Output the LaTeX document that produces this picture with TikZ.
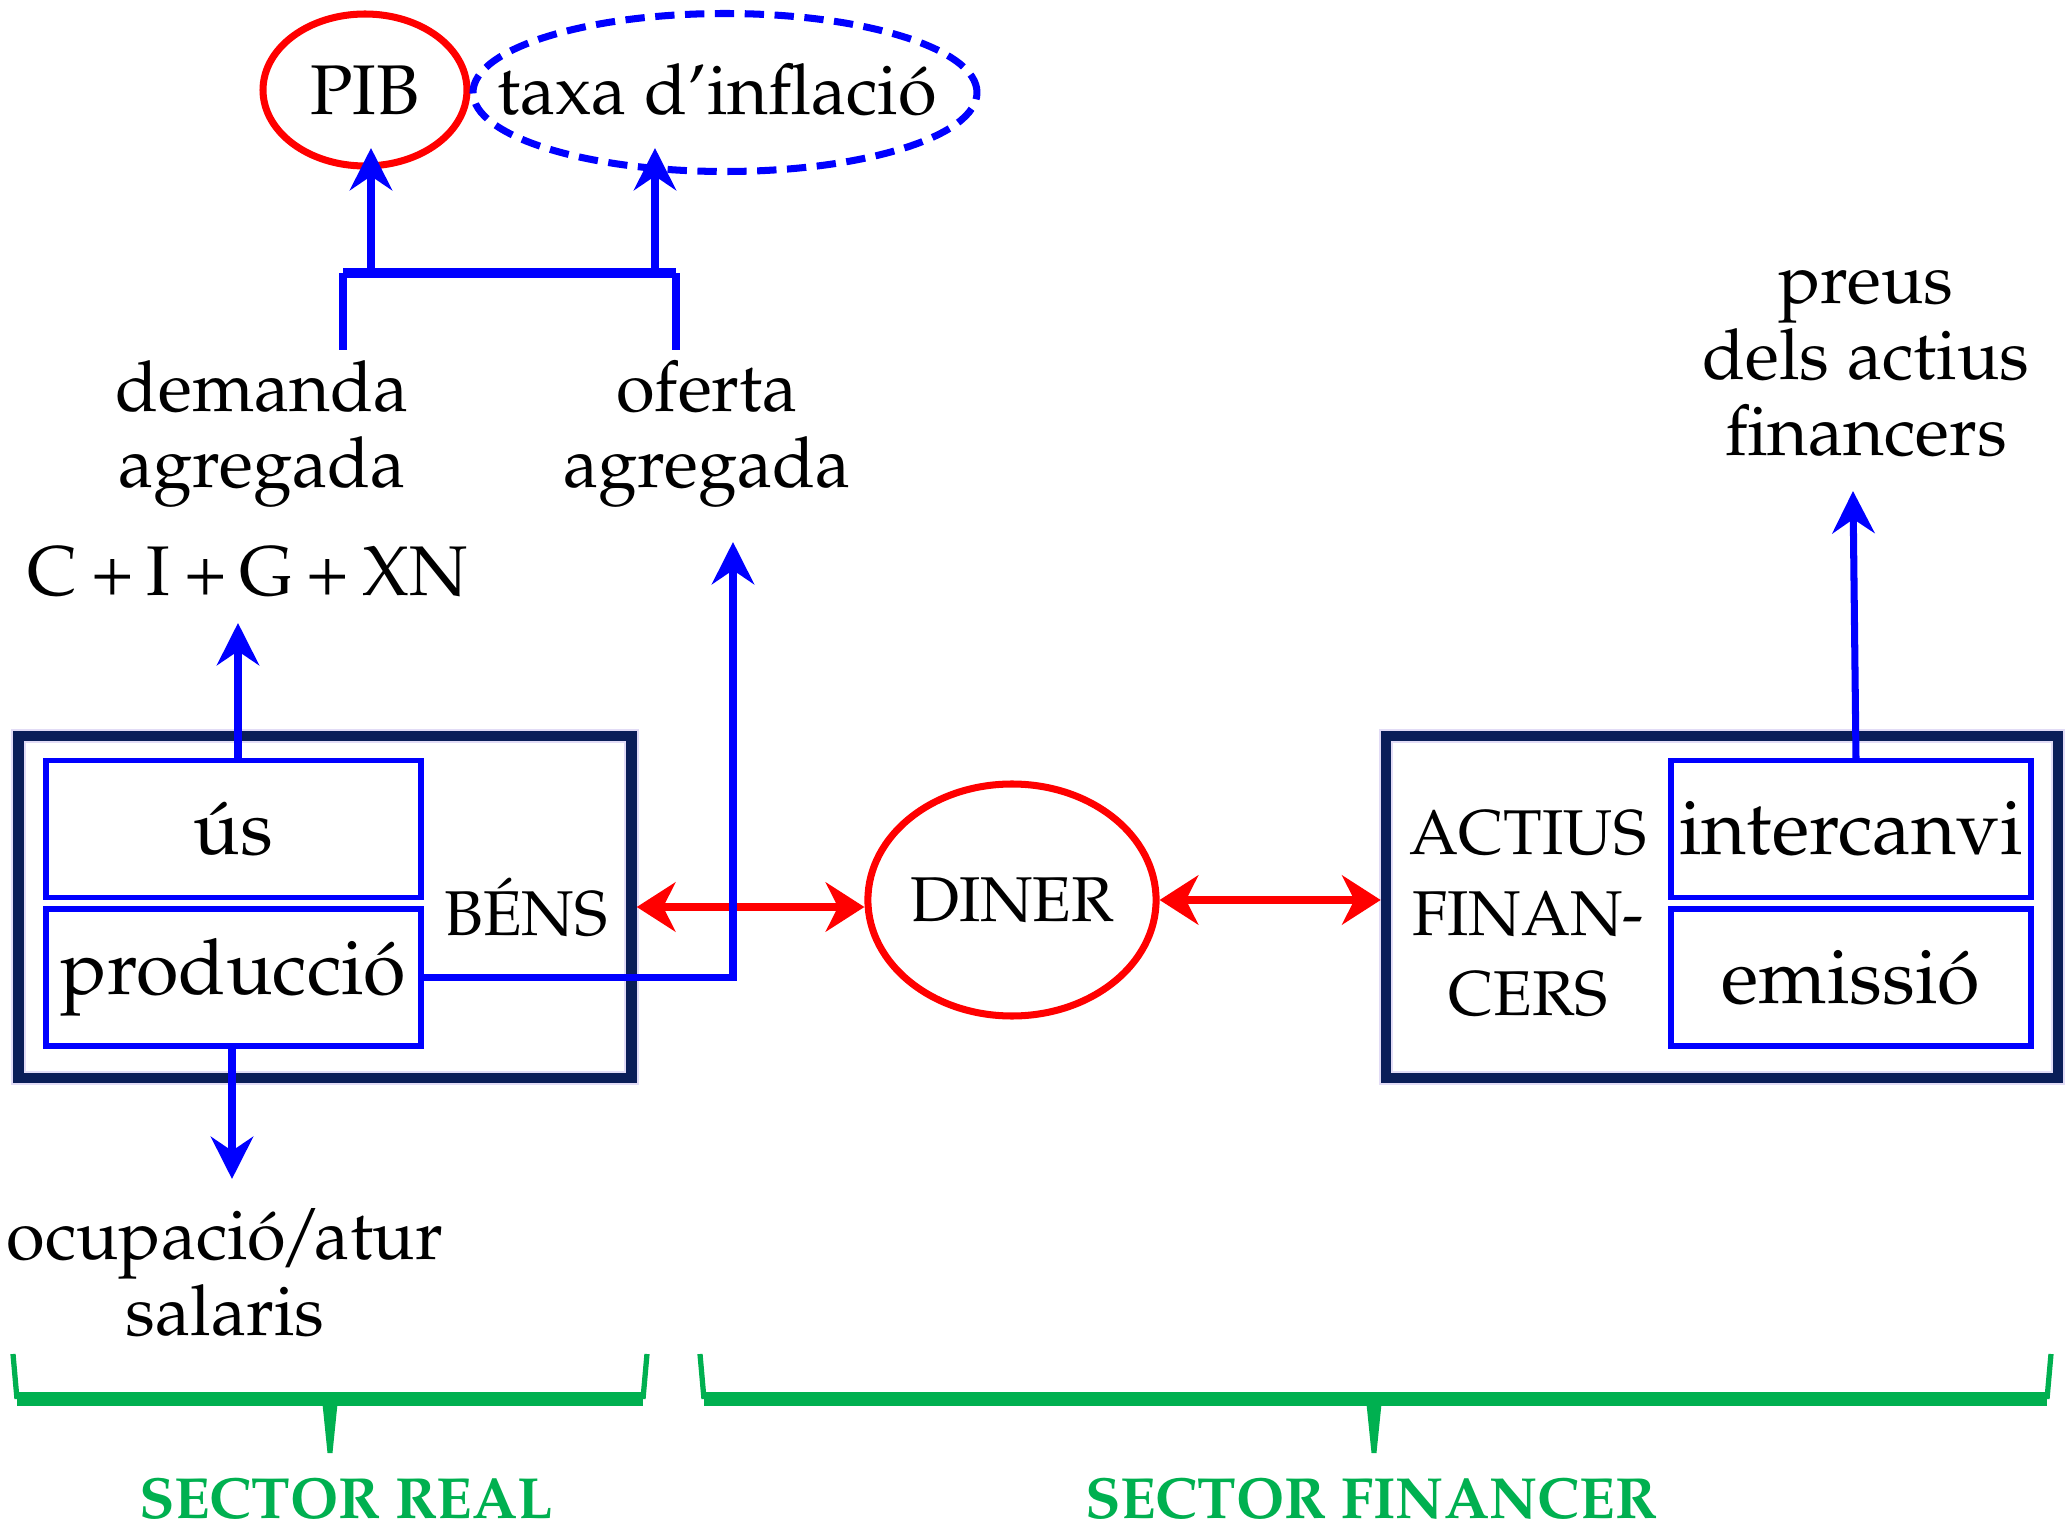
\documentclass[tikz,border=0pt]{standalone}
\usepackage[T1]{fontenc}
\usepackage{mathpazo}
\usetikzlibrary{arrows.meta}
\usetikzlibrary{shapes.geometric}
\definecolor{boxnavy}{RGB}{10,30,88}
\definecolor{boxglow}{RGB}{226,220,246}
\definecolor{sectorgreen}{RGB}{0,176,80}
\newcommand{\bigtext}{\fontsize{20}{21.6}\selectfont}
\newcommand{\boxtext}{\fontsize{22}{24}\selectfont}
\newcommand{\capstext}{\fontsize{18}{22.9}\selectfont}
\newcommand{\sectorbrace}[3]{ \draw[bracearm] (#1,-13.54) -- (#1+0.04,-13.99); \draw[bracearm] (#3,-13.54) -- (#3-0.04,-13.99); \draw[sectorgreen, line width=4pt] (#1+0.04,-13.99) -- (#3-0.04,-13.99); \fill[sectorgreen] (#2-0.08,-13.99) -- (#2+0.08,-13.99) -- (#2+0.025,-14.53) -- (#2-0.025,-14.53) -- cycle;}
\tikzset{
  textnode/.style={align=center, inner sep=0pt, font=\bigtext},
  capsnode/.style={align=center, inner sep=0pt, font=\capstext},
  outerbox/.style={draw=boxnavy, line width=3pt, minimum height=3.42cm, inner sep=0pt,
    preaction={draw=boxglow, line width=4.2pt}},
  innerbox/.style={draw=blue, line width=1.5pt, minimum width=3.75cm, minimum height=1.37cm, inner sep=0pt, font=\boxtext},
  blueline/.style={blue, line width=2pt},
  bluearrow/.style={blueline, -{Stealth[length=12pt,width=12pt,inset=4pt]}},
  redarrow/.style={red, line width=2.4pt, {Stealth[length=11pt,width=14pt,inset=3.5pt]}-{Stealth[length=11pt,width=14pt,inset=3.5pt]}},
  bracearm/.style={sectorgreen, line width=1.5pt},
  sectorlabel/.style={inner sep=0pt, text=sectorgreen, font=\fontsize{16.5}{20}\selectfont\bfseries}
}

\begin{document}
\begin{tikzpicture}
    \useasboundingbox (0,0) rectangle (20.71,-15.30);
    % top: PIB and inflation
    \node[ellipse, draw=red, line width=2pt, minimum width=2.04cm, minimum height=1.52cm, inner sep=0pt, font=\bigtext] (pib) at (3.65,-0.90) {PIB};
    \node[textnode] (taxa) at (7.17,-0.90) {taxa d'inflaci\'o};
    \draw[blue, line width=2pt, dash pattern=on 5.5pt off 3pt] (7.25,-0.925) ellipse [x radius=2.52cm, y radius=0.79cm];
    \coordinate (bar-top) at (0,-2.73);
    \coordinate (bar-l) at (3.43,-3.50);
    \coordinate (bar-r) at (6.76,-3.50);
    \coordinate (pib-tip) at (3.71,-1.48);
    \coordinate (taxa-tip) at (6.55,-1.48);
    \draw[blueline] (bar-l) -- (bar-l |- bar-top);
    \draw[blueline] (bar-r) -- (bar-r |- bar-top);
    \draw[blueline, line width=3pt] (bar-l |- bar-top) -- (bar-r |- bar-top);
    \draw[bluearrow] (pib-tip |- bar-top) -- (pib-tip);
    \draw[bluearrow] (taxa-tip |- bar-top) -- (taxa-tip);
    \node[textnode] (demanda) at (2.62,-4.34) {demanda\\agregada};
    \node[textnode] (oferta) at (7.07,-4.34) {oferta\\agregada};
    \node[textnode] (cigxn) at (2.48,-5.72) {C\hspace{0.19em}+\hspace{0.19em}I\hspace{0.19em}+\hspace{0.19em}G\hspace{0.19em}+\hspace{0.19em}XN};
    % real sector
    \node[outerbox, minimum width=6.13cm] (bens) at (3.25,-9.07) {};
    \node[innerbox] (us) at (2.335,-8.29) {\'us};
    \node[innerbox] (produccio) at (2.335,-9.775) {producci\'o};
    \node[capsnode] (benslabel) at (5.26,-9.07) {B\'ENS};
    % money
    \node[ellipse, draw=red, line width=2pt, minimum width=2.85cm, minimum height=2.32cm, inner sep=0pt, font=\capstext] (diner) at (10.12,-9.0) {DINER};
    % financial sector
    \node[outerbox, minimum width=6.72cm] (actius) at (17.22,-9.07) {};
    \node[capsnode] (actiuslabel) at (15.28,-9.14) {ACTIUS\\FINAN-\\CERS};
    \node[innerbox, minimum width=3.60cm] (intercanvi) at (18.51,-8.29) {intercanvi};
    \node[innerbox, minimum width=3.60cm] (emissio) at (18.51,-9.775) {emissi\'o};
    \node[textnode] (preus) at (18.66,-3.63) {preus\\dels actius\\financers};
    \node[textnode] (ocupacio) at (2.25,-12.73) {ocupaci\'o\kern-0.1em/\kern-0.1em atur\\salaris};
    % arrows
    \coordinate (us-tip) at (2.38,-6.23);
    \coordinate (oferta-tip) at (7.33,-5.42);
    \coordinate (ocupacio-tip) at (2.32,-11.79);
    \coordinate (preus-tip) at (18.53,-4.91);
    \draw[redarrow] (bens.east) -- (bens.east -| diner.west);
    \draw[redarrow] (diner.east) -- (diner.east -| actius.west);
    \draw[bluearrow] (us-tip |- us.north) -- (us-tip);
    \draw[bluearrow] (produccio.east) -| (oferta-tip);
    \draw[bluearrow] (ocupacio-tip |- produccio.south) -- (ocupacio-tip);
    \draw[bluearrow] ([xshift=0.05cm]intercanvi.north) -- (preus-tip);
    % sectors
    \sectorbrace{0.13}{3.30}{6.47}
    \sectorbrace{7.00}{13.74}{20.51}
    \node[sectorlabel] (real) at (3.46,-14.99) {SECTOR REAL};
    \node[sectorlabel] (financer) at (13.71,-14.99) {SECTOR FINANCER};
\end{tikzpicture}
\end{document}
